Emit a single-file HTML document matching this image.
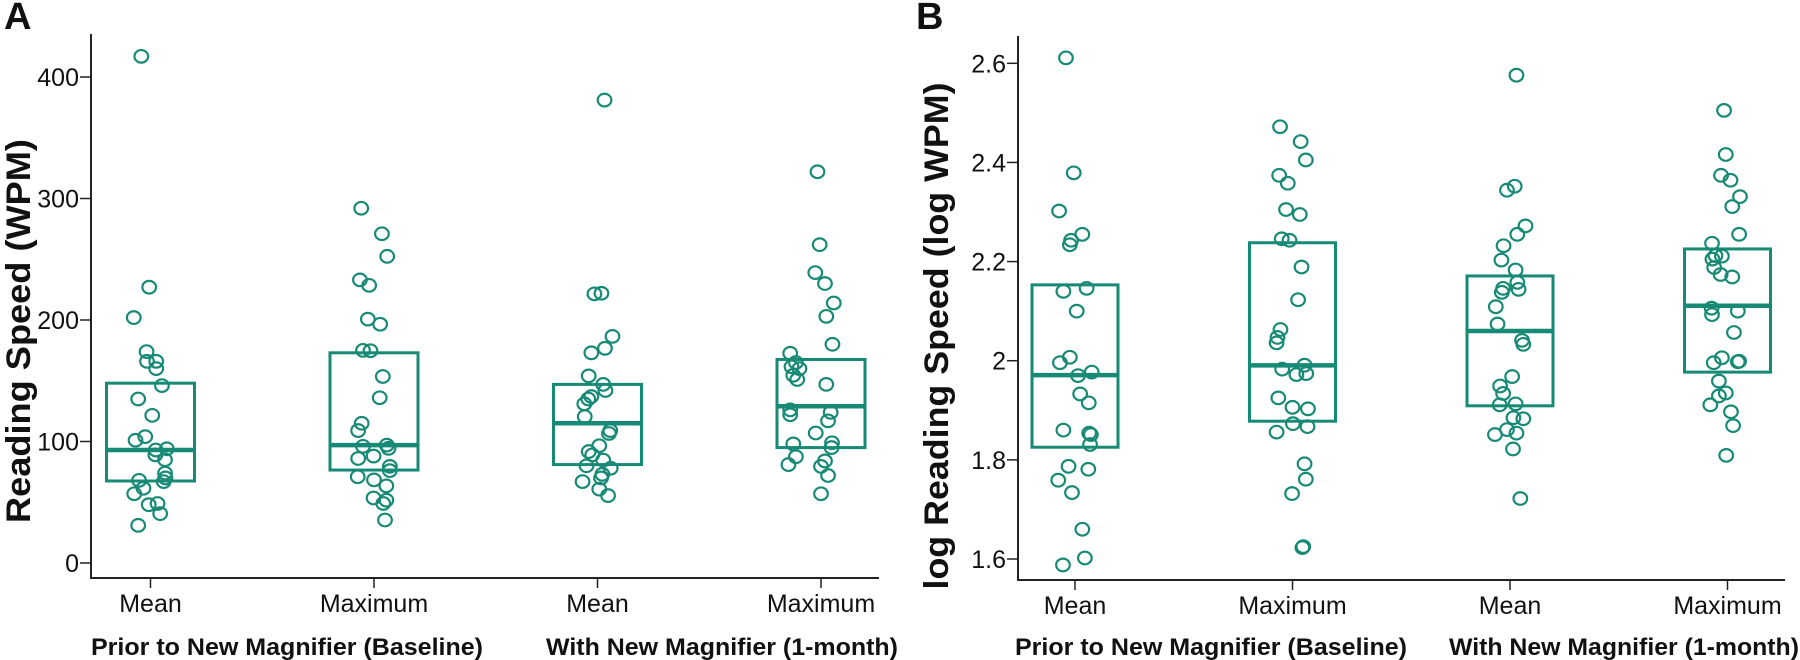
<!DOCTYPE html>
<html><head><meta charset="utf-8"><style>
html,body{margin:0;padding:0;background:#fff;}
svg{display:block;font-family:"Liberation Sans",Arial,sans-serif;}
</style></head><body>
<svg id="chart" width="1800" height="660" viewBox="0 0 1800 660" xmlns="http://www.w3.org/2000/svg"></svg>
<script>
// ---- data ----
const categories = ["Mean","Maximum","Mean","Maximum"];
const groupLabels = ["Prior to New Magnifier (Baseline)","With New Magnifier (1-month)"];
const ticksA = [0,100,200,300,400];
const tickLabelsA = ["0","100","200","300","400"];
const ticksB = [1.6,1.8,2.0,2.2,2.4,2.6];
const tickLabelsB = ["1.6","1.8","2","2.2","2.4","2.6"];

// Panel A boxes [bottom, median, top]
const boxA = [[67.5,93,148],[76.5,97,173],[81,115,147],[95,129,167.5]];
const ptsA1 = [417,227,202,174,166,166,160,146,135,121.5,104,101,93,94,89,85,74,70,67,68,61.5,57,48,49,40.6,31];
const jitA1 = [-0.21,-0.03,-0.38,-0.09,-0.08,0.13,0.13,0.26,-0.28,0.04,-0.12,-0.34,0.12,0.37,0.11,0.33,0.33,0.34,0.30,-0.26,-0.16,-0.37,-0.04,0.16,0.22,-0.28];
const ptsA2 = [292,271,252.4,233,228.5,200.7,196.5,175,174.7,153.5,136,115,109,96,97,94.4,88,86,79.5,76,71,68.4,63.5,53.5,51.7,49,35.4];
const jitA2 = [-0.29,0.18,0.30,-0.32,-0.11,-0.14,0.14,-0.25,-0.08,0.2,0.13,-0.28,-0.36,-0.25,0.29,0.33,-0.01,-0.36,0.36,0.36,-0.37,0,0.28,-0.01,0.28,0.21,0.25];
const ptsA3 = [381,221.5,222,186.5,176.7,173,154,147,142,137,135,131,120.5,109,106.6,96.5,91.7,89,84.7,80,78,73,70,67,60.8,55.5];
const jitA3 = [0.16,-0.07,0.09,0.34,0.17,-0.14,-0.2,0.13,0.18,-0.14,-0.21,-0.3,-0.29,0.29,0.26,0.04,-0.2,-0.12,0.13,-0.25,0.3,0.11,0.08,-0.34,0.04,0.24];
const ptsA4 = [322,262,239,230,214,203,180,172.6,165,161.5,160,154.5,151,147,126,122,124,117,107,98,99,95,87.5,84,81,79.5,72,57];
const jitA4 = [-0.08,-0.03,-0.13,0.09,0.29,0.12,0.26,-0.7,-0.57,-0.67,-0.49,-0.63,-0.54,0.12,-0.7,-0.7,0.22,0.16,-0.12,-0.63,0.25,0.24,-0.57,0.09,-0.74,0,0.16,0];

// Panel B boxes [bottom, median, top]
const boxB = [[1.8255,1.971,2.153],[1.878,1.9906,2.238],[1.909,2.06,2.171],[1.977,2.111,2.2255]];
const ptsB1 = [2.611,2.379,2.302,2.255,2.243,2.234,2.140,2.146,2.1,2.007,1.996,1.970,1.977,1.933,1.915,1.86,1.854,1.851,1.831,1.787,1.781,1.759,1.734,1.66,1.602,1.588];
const jitB1 = [-0.21,-0.03,-0.37,0.17,-0.09,-0.12,-0.27,0.27,0.04,-0.12,-0.35,0.07,0.39,0.12,0.32,-0.27,0.33,0.37,0.35,-0.15,0.31,-0.39,-0.07,0.17,0.23,-0.28];
const ptsB2 = [2.472,2.442,2.405,2.374,2.358,2.305,2.295,2.246,2.243,2.189,2.123,2.063,2.047,2.036,1.991,1.983,1.974,1.972,1.925,1.906,1.903,1.873,1.867,1.856,1.792,1.761,1.732,1.623,1.625];
const jitB2 = [-0.29,0.19,0.31,-0.31,-0.11,-0.15,0.17,-0.25,-0.07,0.21,0.13,-0.28,-0.35,-0.37,0.28,-0.24,0.32,0.09,-0.33,0,0.36,0.01,0.35,-0.37,0.28,0.31,-0.01,0.23,0.25];
const ptsB3 = [2.576,2.344,2.352,2.272,2.255,2.232,2.203,2.183,2.158,2.146,2.144,2.138,2.109,2.074,2.041,2.033,1.968,1.949,1.934,1.913,1.911,1.883,1.885,1.861,1.854,1.851,1.822,1.722];
const jitB3 = [0.15,-0.07,0.11,0.36,0.17,-0.15,-0.2,0.13,0.17,-0.16,0.2,-0.19,-0.33,-0.29,0.28,0.31,0.05,-0.23,-0.16,0.13,-0.24,0.31,0.08,-0.07,0.15,-0.35,0.07,0.24];
const ptsB4 = [2.505,2.416,2.374,2.364,2.331,2.311,2.255,2.237,2.212,2.211,2.205,2.188,2.174,2.169,2.106,2.093,2.1,2.057,2.006,1.996,1.998,1.999,1.959,1.935,1.929,1.911,1.897,1.869,1.809];
const jitB4 = [-0.08,-0.04,-0.15,0.07,0.29,0.11,0.27,-0.36,-0.28,-0.13,-0.35,-0.31,-0.16,0.11,-0.37,-0.36,0.24,0.15,-0.13,-0.32,0.24,0.27,-0.2,-0.04,-0.2,-0.4,0.08,0.13,-0.03];

const COLOR = "#178a76";
const NS = "http://www.w3.org/2000/svg";
const svg = document.getElementById("chart");
function mk(tag, attrs, parent){
  const e = document.createElementNS(NS, tag);
  for (const k in attrs) e.setAttribute(k, attrs[k]);
  (parent||svg).appendChild(e);
  return e;
}

function panel(cfg){
  const g = mk("g", {});
  
  
  const yS = v => cfg.y0px + (v - cfg.v0) * (cfg.y1px - cfg.y0px) / (cfg.v1 - cfg.v0);
  const xS = i => cfg.xFirst + i * cfg.band;
  const L = mk("text", {x: cfg.letterX, y: 29, "font-size": 38, "font-weight": "bold", fill: "#111"}, g);
  L.textContent = cfg.letter;
  
  
  const ya = mk("line", {x1: cfg.axisX, x2: cfg.axisX, y1: cfg.axisTop, y2: cfg.axisY, stroke: "#222", "stroke-width": 2}, g);
  
  
  const xa = mk("line", {x1: cfg.axisX - 1, x2: cfg.axisRight, y1: cfg.axisY, y2: cfg.axisY, stroke: "#222", "stroke-width": 2}, g);
  
  
  cfg.ticks.forEach((t, i) => {
    const y = yS(t);
    const tl = mk("line", {x1: cfg.axisX - 11, x2: cfg.axisX, y1: y, y2: y, stroke: "#222", "stroke-width": 1.5}, g);
    
    
    const tx = mk("text", {x: cfg.axisX - 12, y: y + 9, "font-size": 25, "text-anchor": "end", fill: "#111"}, g);
    tx.textContent = cfg.tickLabels[i];
    
    
  });
  const yt = mk("text", {x: 0, y: 0, "font-size": 34, "font-weight": "bold", "text-anchor": "middle", fill: "#111",
    textLength: cfg.titleLen, lengthAdjust: "spacingAndGlyphs",
    transform: `translate(${cfg.titleX},${cfg.titleY}) rotate(-90)`}, g);
  yt.textContent = cfg.title;
  
  
  categories.forEach((c, i) => {
    const x = xS(i);
    const tk = mk("line", {x1: x, x2: x, y1: cfg.axisY, y2: cfg.axisY + 10, stroke: "#222", "stroke-width": 1.5}, g);
    
    
    const t = mk("text", {x: x, y: cfg.axisY + 34, "font-size": 25, "text-anchor": "middle", fill: "#111"}, g);
    t.textContent = c;
    
    
  });
  groupLabels.forEach((gl, i) => {
    const t = mk("text", {x: cfg.groupX[i], y: 655, "font-size": 24, "font-weight": "bold", fill: "#111",
      textLength: cfg.groupLen[i], lengthAdjust: "spacingAndGlyphs"}, g);
    t.textContent = gl;
    
    
  });
  cfg.boxes.forEach((b, i) => {
    const x = xS(i), hw = cfg.halfW;
    const r = mk("rect", {x: x - hw, y: yS(b[2]), width: 2 * hw, height: yS(b[0]) - yS(b[2]), fill: "none", stroke: COLOR, "stroke-width": 3}, g);
    
    
    const m = mk("line", {x1: x - hw, x2: x + hw, y1: yS(b[1]), y2: yS(b[1]), stroke: COLOR, "stroke-width": 4.5}, g);
    
    
    const vals = cfg.pts[i], jit = cfg.jit[i];
    vals.forEach((v, k) => {
      const c = mk("ellipse", {cx: x + (jit[k] || 0) * hw, cy: yS(v), rx: 6.8, ry: 6.3, fill: "none", stroke: COLOR, "stroke-width": 2.2}, g);
      
      
    });
  });
}

panel({name: "panel-a", letter: "A", letterX: 4, axisX: 91, axisTop: 34, axisY: 578, axisRight: 879,
  v0: 0, v1: 400, y0px: 563, y1px: 77, ticks: ticksA, tickLabels: tickLabelsA,
  title: "Reading Speed (WPM)", titleX: 30, titleY: 331, titleLen: 384,
  xFirst: 150.5, band: 223.5, halfW: 44,
  groupX: [91, 546], groupLen: [392, 352],
  boxes: boxA, pts: [ptsA1, ptsA2, ptsA3, ptsA4], jit: [jitA1, jitA2, jitA3, jitA4]});

panel({name: "panel-b", letter: "B", letterX: 916, axisX: 1018, axisTop: 36, axisY: 580, axisRight: 1785,
  v0: 1.6, v1: 2.6, y0px: 559, y1px: 63.3, ticks: ticksB, tickLabels: tickLabelsB,
  title: "log Reading Speed (log WPM)", titleX: 948, titleY: 336, titleLen: 507,
  xFirst: 1075, band: 217.5, halfW: 43,
  groupX: [1015, 1449], groupLen: [392, 350],
  boxes: boxB, pts: [ptsB1, ptsB2, ptsB3, ptsB4], jit: [jitB1, jitB2, jitB3, jitB4]});
</script>
</body></html>
